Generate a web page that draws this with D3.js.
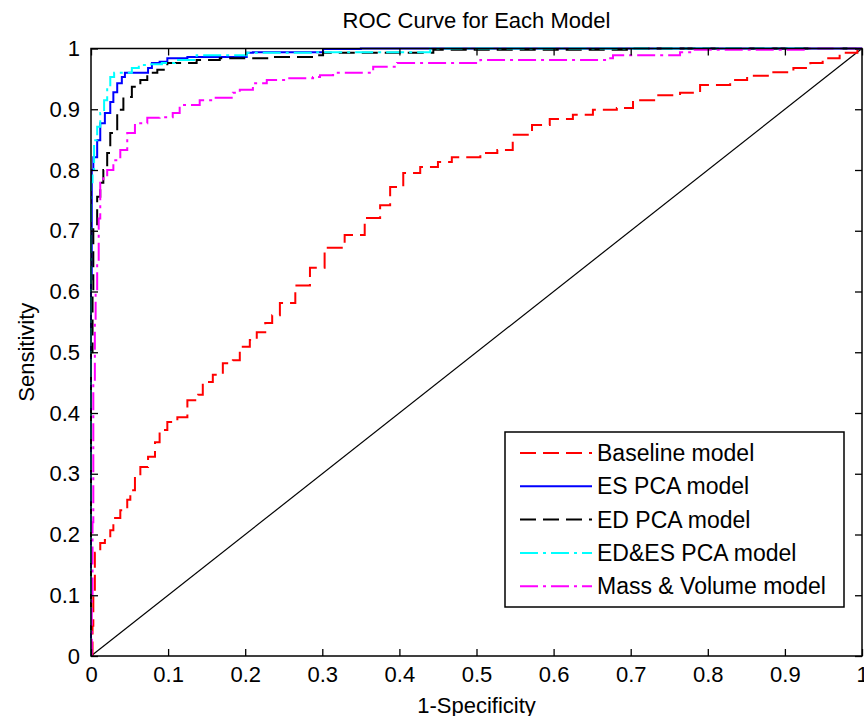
<!DOCTYPE html>
<html>
<head>
<meta charset="utf-8">
<script src="https://cdn.jsdelivr.net/npm/d3@7"></script>
<style>
  body { margin: 0; background: #fff; }
  text { font-family: "Liberation Sans", Arial, sans-serif; fill: #000; }
</style>
</head>
<body>
<svg id="chart" width="864" height="716"></svg>
<script>
// tick values / labels
var tickValues = [0, 0.1, 0.2, 0.3, 0.4, 0.5, 0.6, 0.7, 0.8, 0.9, 1];
var tickLabels = ["0", "0.1", "0.2", "0.3", "0.4", "0.5", "0.6", "0.7", "0.8", "0.9", "1"];

var seriesNames = ["Baseline model", "ES PCA model", "ED PCA model", "ED&ES PCA model", "Mass & Volume model"];

// [1-specificity, sensitivity]
var baselineRoc = [
  [0, 0], [0.002, 0.05], [0.003, 0.105], [0.005, 0.17], [0.012, 0.186], [0.018, 0.191], [0.025, 0.207],
  [0.029, 0.227], [0.038, 0.24], [0.047, 0.257], [0.051, 0.273], [0.057, 0.295], [0.064, 0.311],
  [0.074, 0.328], [0.083, 0.352], [0.089, 0.372], [0.099, 0.385], [0.112, 0.393], [0.125, 0.421],
  [0.139, 0.43], [0.145, 0.451], [0.158, 0.463], [0.171, 0.482], [0.184, 0.487], [0.193, 0.509],
  [0.206, 0.52], [0.215, 0.533], [0.226, 0.548], [0.235, 0.561], [0.245, 0.581], [0.265, 0.61],
  [0.284, 0.639], [0.303, 0.672], [0.329, 0.693], [0.355, 0.721], [0.375, 0.742], [0.388, 0.772],
  [0.405, 0.795], [0.427, 0.805], [0.45, 0.813], [0.468, 0.821], [0.505, 0.828], [0.527, 0.833],
  [0.547, 0.858], [0.572, 0.874], [0.595, 0.884], [0.625, 0.891], [0.651, 0.899], [0.682, 0.902],
  [0.703, 0.915], [0.734, 0.923], [0.764, 0.927], [0.79, 0.94], [0.829, 0.948], [0.851, 0.955],
  [0.885, 0.961], [0.911, 0.968], [0.933, 0.976], [0.949, 0.984], [0.971, 0.993], [0.994, 1], [1, 1]
];
var esPcaRoc = [
  [0, 0], [0, 0.62], [0.001, 0.7], [0.001, 0.8], [0.003, 0.821], [0.008, 0.849], [0.012, 0.877],
  [0.018, 0.894], [0.025, 0.912], [0.029, 0.928], [0.034, 0.943], [0.04, 0.953], [0.044, 0.96],
  [0.067, 0.96], [0.074, 0.968], [0.079, 0.976], [0.089, 0.978], [0.099, 0.984], [0.115, 0.984],
  [0.125, 0.986], [0.202, 0.993], [0.21, 0.994], [0.288, 0.994], [0.301, 0.999], [0.35, 1], [1, 1]
];
var edPcaRoc = [
  [0, 0], [0, 0.5], [0.002, 0.6], [0.003, 0.706], [0.008, 0.756], [0.012, 0.779], [0.016, 0.8],
  [0.021, 0.828], [0.025, 0.861], [0.034, 0.899], [0.042, 0.92], [0.053, 0.937], [0.064, 0.948],
  [0.073, 0.96], [0.086, 0.965], [0.099, 0.976], [0.115, 0.976], [0.137, 0.981], [0.167, 0.984],
  [0.202, 0.984], [0.236, 0.986], [0.288, 0.989], [0.301, 0.993], [0.444, 0.998], [0.695, 0.998],
  [0.695, 1], [1, 1]
];
var edEsPcaRoc = [
  [0, 0], [0, 0.78], [0.002, 0.8], [0.004, 0.849], [0.008, 0.871], [0.012, 0.894], [0.017, 0.915],
  [0.021, 0.937], [0.025, 0.953], [0.03, 0.96], [0.044, 0.96], [0.053, 0.968], [0.062, 0.973],
  [0.075, 0.974], [0.092, 0.976], [0.109, 0.981], [0.137, 0.989], [0.202, 0.993], [0.288, 0.994],
  [0.375, 0.994], [0.44, 1], [1, 1]
];
var massVolumeRoc = [
  [0, 0], [0.001, 0.1], [0.002, 0.22], [0.003, 0.45], [0.005, 0.55], [0.006, 0.6], [0.008, 0.65],
  [0.01, 0.72], [0.012, 0.779], [0.016, 0.788], [0.021, 0.8], [0.029, 0.816], [0.038, 0.833],
  [0.047, 0.861], [0.057, 0.877], [0.073, 0.886], [0.089, 0.887], [0.106, 0.894], [0.115, 0.907],
  [0.141, 0.915], [0.158, 0.919], [0.184, 0.927], [0.193, 0.932], [0.21, 0.943], [0.228, 0.948],
  [0.254, 0.951], [0.288, 0.953], [0.297, 0.956], [0.314, 0.96], [0.353, 0.96], [0.366, 0.97],
  [0.397, 0.976], [0.495, 0.976], [0.505, 0.981], [0.669, 0.984], [0.677, 0.989], [0.764, 0.994],
  [0.781, 0.998], [0.929, 1], [1, 1]
];
var chanceLine = [[0, 0], [1, 1]];

var seriesData = [baselineRoc, esPcaRoc, edPcaRoc, edEsPcaRoc, massVolumeRoc];
var seriesColors = ["#ff0000", "#0000ff", "#000000", "#00ffff", "#ff00ff"];
var seriesDash = ["16,7", null, "16,7", "18,5,3,5", "18,5,3,5"];

var svg = d3.select("#chart");
// plot box in pixels (not "top": that name is taken by window.top)
var boxL = 91, boxR = 862, boxT = 48.5, boxB = 656;

var x = d3.scaleLinear().domain([0, 1]).range([boxL, boxR]);
var y = d3.scaleLinear().domain([0, 1]).range([boxB, boxT]);

var line = d3.line()
  .x(d => x(d[0]))
  .y(d => y(d[1]))
  .curve(d3.curveStepAfter);

var plot = svg.append("g");

plot.append("path")
  .datum(chanceLine)
  .attr("fill", "none")
  .attr("stroke", "#000")
  .attr("stroke-width", 1.2)
  .attr("d", d3.line().x(d => x(d[0])).y(d => y(d[1])));

seriesData.forEach((data, i) => {
  plot.append("path")
    .datum(data)
    .attr("fill", "none")
    .attr("stroke", seriesColors[i])
    .attr("stroke-width", 2)
    .attr("stroke-dasharray", seriesDash[i])
    .attr("d", line);
});

// axes: ticks point inward on all four sides
function styleAxis(g) {
  g.select(".domain").remove();
  g.selectAll(".tick line").attr("stroke", "#000").attr("stroke-width", 1.3);
  g.selectAll(".tick text").attr("font-size", 22).attr("fill", "#000")
    .attr("font-family", "'Liberation Sans', Arial, sans-serif");
}

svg.append("g")
  .attr("transform", "translate(0," + boxB + ")")
  .call(d3.axisBottom(x).tickValues(tickValues).tickFormat((d, i) => tickLabels[i])
    .tickSizeInner(-7).tickSizeOuter(0).tickPadding(10))
  .call(styleAxis);

svg.append("g")
  .attr("transform", "translate(" + boxL + ",0)")
  .call(d3.axisLeft(y).tickValues(tickValues).tickFormat((d, i) => tickLabels[i])
    .tickSizeInner(-7).tickSizeOuter(0).tickPadding(11))
  .call(styleAxis);

svg.append("g")
  .attr("transform", "translate(0," + boxT + ")")
  .call(d3.axisTop(x).tickValues(tickValues).tickFormat("").tickSizeInner(-7).tickSizeOuter(0))
  .call(styleAxis);

svg.append("g")
  .attr("transform", "translate(" + boxR + ",0)")
  .call(d3.axisRight(y).tickValues(tickValues).tickFormat("").tickSizeInner(-7).tickSizeOuter(0))
  .call(styleAxis);

svg.append("rect")
  .attr("x", boxL)
  .attr("y", boxT)
  .attr("width", boxR - boxL)
  .attr("height", boxB - boxT)
  .attr("fill", "none")
  .attr("stroke", "#000")
  .attr("stroke-width", 1.5);

// titles
svg.append("text")
  .attr("x", (boxL + boxR) / 2)
  .attr("y", 28)
  .attr("text-anchor", "middle")
  .attr("font-size", 22)
  .text("ROC Curve for Each Model");

svg.append("text")
  .attr("x", (boxL + boxR) / 2)
  .attr("y", 713)
  .attr("text-anchor", "middle")
  .attr("font-size", 22)
  .text("1-Specificity");

svg.append("text")
  .attr("transform", "translate(34," + (boxT + boxB) / 2 + ") rotate(-90)")
  .attr("text-anchor", "middle")
  .attr("font-size", 22)
  .text("Sensitivity");

// legend
var legend = svg.append("g").attr("transform", "translate(505,432)");

legend.append("rect")
  .attr("width", 339)
  .attr("height", 175)
  .attr("fill", "#fff")
  .attr("stroke", "#000")
  .attr("stroke-width", 1.5);

seriesNames.forEach((name, i) => {
  var rowY = 21 + i * 33.3;
  legend.append("line")
    .attr("x1", 15)
    .attr("x2", 87)
    .attr("y1", rowY)
    .attr("y2", rowY)
    .attr("stroke", seriesColors[i])
    .attr("stroke-width", 2)
    .attr("stroke-dasharray", seriesDash[i]);
  legend.append("text")
    .attr("x", 92)
    .attr("y", rowY + 8)
    .attr("font-size", 23)
    .text(name);
});
</script>
</body>
</html>
